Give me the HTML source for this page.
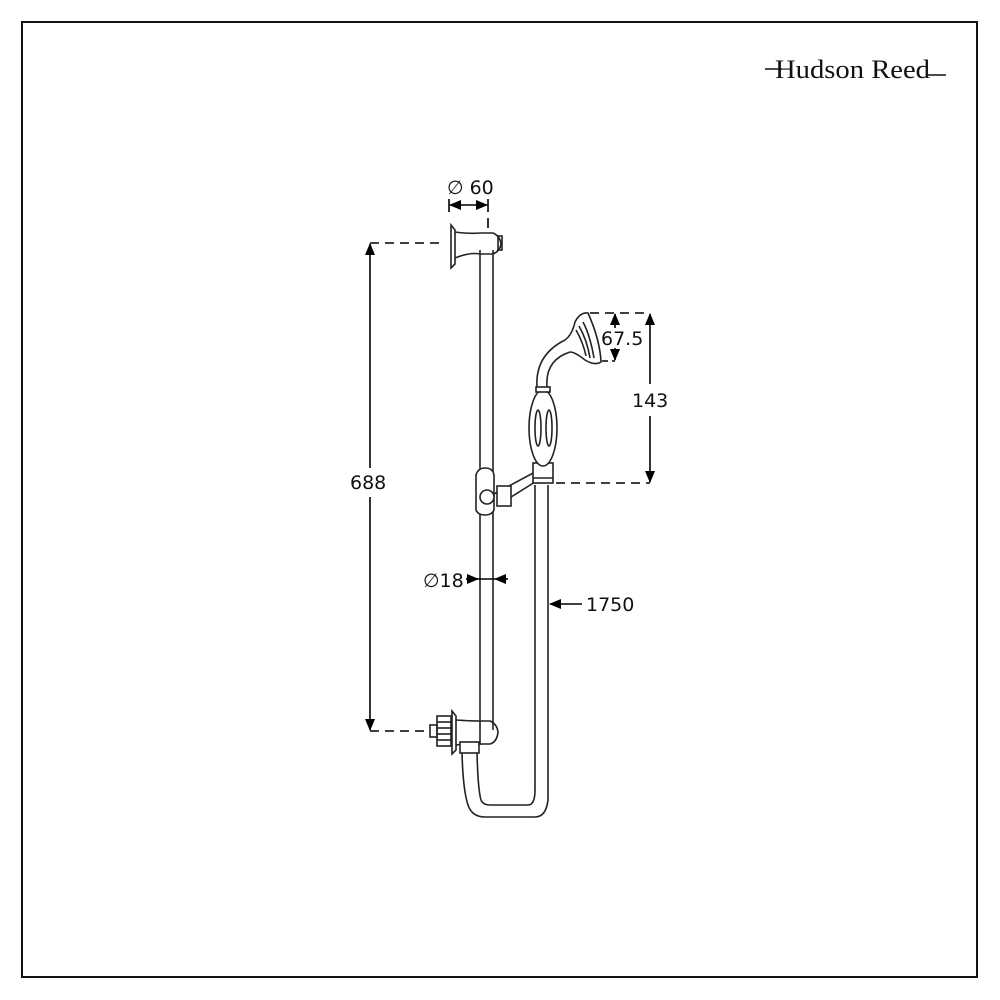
<!DOCTYPE html>
<html><head><meta charset="utf-8"><style>
html,body{margin:0;padding:0;background:#fff;}
svg{display:block;}
text{font-family:"DejaVu Sans","Liberation Sans",sans-serif;font-size:19px;fill:#111;}
</style></head><body>
<svg width="1000" height="1000" viewBox="0 0 1000 1000" xmlns="http://www.w3.org/2000/svg">
<defs>
<marker id="ah" markerWidth="12" markerHeight="10" refX="11" refY="5" orient="auto" markerUnits="userSpaceOnUse"><path d="M0,0 L12,5 L0,10 Z" fill="#000"/></marker>
</defs>
<rect x="22" y="22" width="955" height="955" fill="none" stroke="#111" stroke-width="2"/>
<text x="775" y="78" textLength="155" lengthAdjust="spacingAndGlyphs" style="font-family:'Liberation Serif',serif;font-size:26px">Hudson Reed</text>
<line x1="765" y1="69" x2="782" y2="69" stroke="#111" stroke-width="1.5"/>
<line x1="928" y1="75" x2="946" y2="75" stroke="#111" stroke-width="1.5"/>

<g fill="none" stroke="#222" stroke-width="1.6">
<line x1="480" y1="250" x2="480" y2="745"/>
<line x1="493" y1="250" x2="493" y2="730"/>
<path d="M451,225 L455,230 L455,264 L451,268 Z" fill="#fff"/>
<path d="M455,232 Q470,234 480,233 L493,233 Q500,236 501,244 Q500,251 493,254 L480,254 Q470,252 455,258"/>
<rect x="498" y="236" width="4" height="14"/>
<path d="M452,711 L456,716 L456,750 L452,754 Z" fill="#fff"/>
<rect x="437" y="716" width="14" height="30"/>
<line x1="437" y1="722" x2="451" y2="722"/><line x1="437" y1="728" x2="451" y2="728"/><line x1="437" y1="734" x2="451" y2="734"/><line x1="437" y1="740" x2="451" y2="740"/>
<rect x="430" y="725" width="7" height="12"/>
<path d="M456,720 Q470,721 480,721 L490,721 Q497,724 498,732 Q497,742 490,744 L480,744 Q470,743 456,745"/>
<rect x="460" y="742" width="19" height="11" fill="#fff"/>
<path d="M462,753 Q463,790 468,805 Q472,817 485,817 L535,817 Q546,817 548,800 L548,485"/>
<path d="M477,753 Q478,790 481,800 Q483,805 490,805 L528,805 Q535,805 535,790 L535,485"/>
<path d="M476,475 Q478,468 485,468 Q493,468 494,475 L494,510 Q492,515 485,515 Q478,515 476,510 Z" fill="#fff"/>
<circle cx="487" cy="497" r="7" fill="#fff"/>
<path d="M494,494 L535,472 M500,504 L535,482"/>
<rect x="497" y="486" width="14" height="20" fill="#fff"/>
<rect x="533" y="463" width="20" height="20" fill="#fff"/>
<line x1="533" y1="478" x2="553" y2="478"/>
<ellipse cx="543" cy="428" rx="14" ry="38" fill="#fff"/>
<ellipse cx="538" cy="428" rx="3" ry="18"/><ellipse cx="549" cy="428" rx="3" ry="18"/>
<rect x="536" y="387" width="14" height="5" fill="#fff"/>
<path d="M537,387 Q535,355 565,340 M547,387 Q545,360 570,352"/>
<path d="M565,340 Q572,335 575,322 Q580,312 588,313 Q600,340 601,362 Q595,366 585,360 Q575,352 570,352"/>
<path d="M583,322 Q590,335 594,358 M579,326 Q587,340 590,358 M576,330 Q583,342 586,356"/>
</g>

<g stroke="#000" stroke-width="1.6" fill="none">
<line x1="449" y1="199" x2="449" y2="212"/><line x1="488" y1="199" x2="488" y2="212"/><line x1="488" y1="218" x2="488" y2="228"/>
<line x1="468" y1="205" x2="450" y2="205" marker-end="url(#ah)"/>
<line x1="468" y1="205" x2="487" y2="205" marker-end="url(#ah)"/>
<line x1="370" y1="243" x2="445" y2="243" stroke-dasharray="9,6"/>
<line x1="370" y1="731" x2="425" y2="731" stroke-dasharray="9,6"/>
<line x1="370" y1="468" x2="370" y2="244" marker-end="url(#ah)"/>
<line x1="370" y1="497" x2="370" y2="730" marker-end="url(#ah)"/>
<line x1="590" y1="313" x2="650" y2="313" stroke-dasharray="9,6"/>
<line x1="556" y1="483" x2="650" y2="483" stroke-dasharray="9,6"/>
<line x1="650" y1="384" x2="650" y2="314" marker-end="url(#ah)"/>
<line x1="650" y1="416" x2="650" y2="482" marker-end="url(#ah)"/>
<line x1="602" y1="361" x2="615" y2="361" stroke-dasharray="6,4"/>
<line x1="615" y1="328" x2="615" y2="314" marker-end="url(#ah)"/>
<line x1="615" y1="348" x2="615" y2="360" marker-end="url(#ah)"/>
<line x1="466" y1="579" x2="478" y2="579" marker-end="url(#ah)"/>
<line x1="478" y1="579" x2="495" y2="579"/>
<line x1="508" y1="579" x2="495" y2="579" marker-end="url(#ah)"/>
<line x1="582" y1="604" x2="550" y2="604" marker-end="url(#ah)"/>
</g>
<text x="447" y="194">∅ 60</text>
<text x="350" y="489">688</text>
<text x="632" y="407">143</text>
<text x="601" y="345">67.5</text>
<text x="423" y="587">∅18</text>
<text x="586" y="611">1750</text>
</svg>
</body></html>
